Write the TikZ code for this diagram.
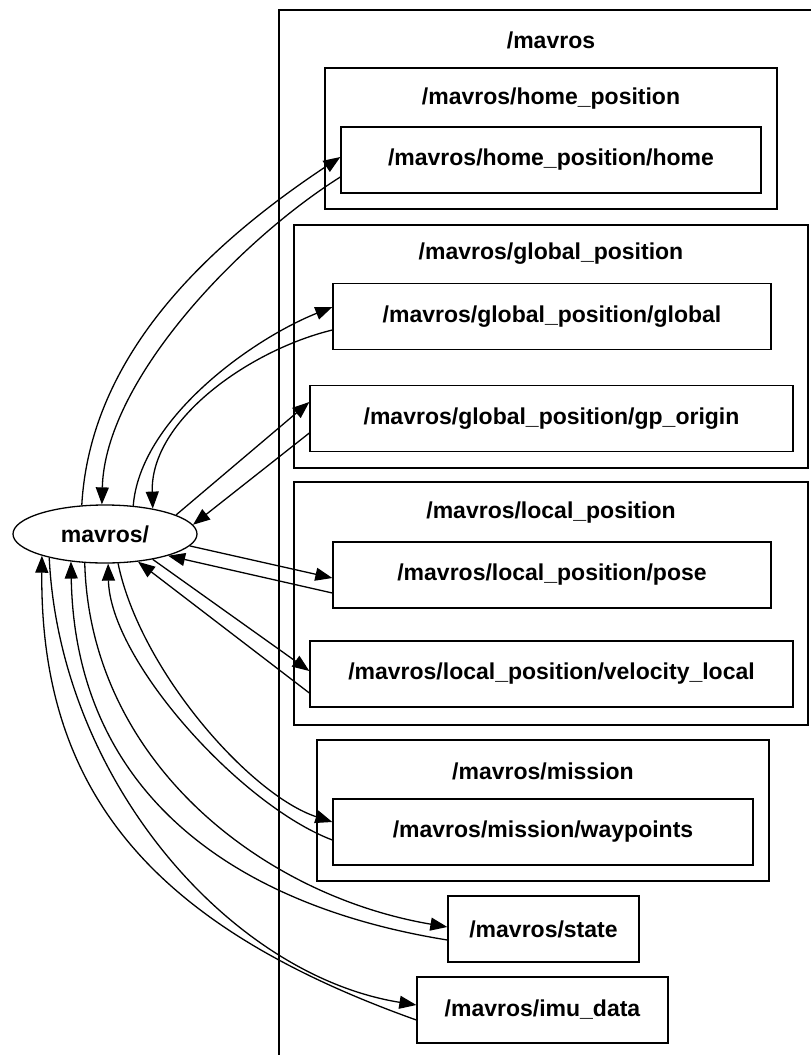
\documentclass[tikz,border=0pt]{standalone}
\usepackage{fontspec}
\setmainfont{Liberation Sans}
\usetikzlibrary{arrows.meta, shapes.geometric, positioning}

\begin{document}
\begin{tikzpicture}[
    x=1pt, y=-1pt,
    font=\bfseries\fontsize{23}{27}\selectfont,
    line width=1.3pt,
    >={Triangle[length=17pt, width=13pt]},
    rosnode/.style={ellipse, draw, minimum width=184pt, minimum height=58pt, inner sep=0pt},
    topic/.style={rectangle, draw, minimum height=66pt, inner sep=0pt},
    grp/.style={rectangle, draw, inner sep=0pt},
    grplabel/.style={inner sep=0pt}
]
\useasboundingbox (0,0) rectangle (811,1055);
\clip (0,0) rectangle (811,1055);

% Namespace groups
\node[grp, minimum width=544pt, minimum height=1100pt] (mavrosgrp) at (551,560) {};
\node[grplabel] (mavroslbl) at (551,40) {/mavros};
\node[grp, minimum width=452pt, minimum height=141pt] (homegrp) at (551,138.5) {};
\node[grplabel] (homelbl) at (551,99) {/mavros/home\_position};
\node[grp, minimum width=514pt, minimum height=243pt] (globalgrp) at (551,346.5) {};
\node[grplabel] (globallbl) at (551,254) {/mavros/global\_position};
\node[grp, minimum width=514pt, minimum height=243pt] (localgrp) at (551,603.5) {};
\node[grplabel] (locallbl) at (551,513) {/mavros/local\_position};
\node[grp, minimum width=452pt, minimum height=141pt] (missiongrp) at (543,810.5) {};
\node[grplabel] (missionlbl) at (543,771) {/mavros/mission};

% Node and topics
\node[rosnode] (mav) at (105,534) {mavros/};
\node[topic, minimum width=420pt] (home) at (551,160) {/mavros/home\_position/home};
\node[topic, minimum width=438pt] (global) at (552,316.5) {/mavros/global\_position/global};
\node[topic, minimum width=483pt] (gporigin) at (551.5,418.5) {/mavros/global\_position/gp\_origin};
\node[topic, minimum width=438pt] (pose) at (552,575) {/mavros/local\_position/pose};
\node[topic, minimum width=483pt] (velocity) at (551.5,674) {/mavros/local\_position/velocity\_local};
\node[topic, minimum width=420pt] (waypoints) at (543,832) {/mavros/mission/waypoints};
\node[topic, minimum width=191pt] (state) at (543.5,929) {/mavros/state};
\node[topic, minimum width=251pt] (imu) at (542.5,1010) {/mavros/imu\_data};

% Publish / subscribe arrows
\draw[->] (mav.129) .. controls (90,360) and (200,250) .. ([yshift=3pt]home.west);
\draw[->] ([yshift=-17pt]home.west) .. controls (240,240) and (105,380) .. (mav.96);
\draw[->] (mav.45) .. controls (140,420) and (250,340) .. ([yshift=9.5pt]global.west);
\draw[->] ([yshift=-13.5pt]global.west) .. controls (250,350) and (150,420) .. (mav.28);
\draw[->] (mav.15) -- ([yshift=16.5pt]gporigin.west);
\draw[->] ([yshift=-14.5pt]gporigin.west) -- (mav.6);
\draw[->] (mav.352) -- ([yshift=-3pt]pose.west);
\draw[->] ([yshift=-18pt]pose.west) -- (mav.341);
\draw[->] (mav.332) -- ([yshift=3pt]velocity.west);
\draw[->] ([yshift=-19pt]velocity.west) -- (mav.320);
\draw[->] (mav.294) .. controls (140,670) and (250,795) .. ([yshift=10pt]waypoints.west);
\draw[->] ([yshift=-8pt]waypoints.west) .. controls (240,805) and (110,660) .. (mav.276);
\draw[->] (mav.235) .. controls (90,760) and (260,895) .. ([yshift=2pt]state.west);
\draw[->] ([yshift=-11pt]state.west) .. controls (230,905) and (75,790) .. (mav.219);
\draw[->] (mav.203) .. controls (60,780) and (230,975) .. ([yshift=5pt]imu.west);
\draw[->] ([yshift=-10pt]imu.west) .. controls (150,925) and (40,790) .. (mav.199);

\end{tikzpicture}
\end{document}
